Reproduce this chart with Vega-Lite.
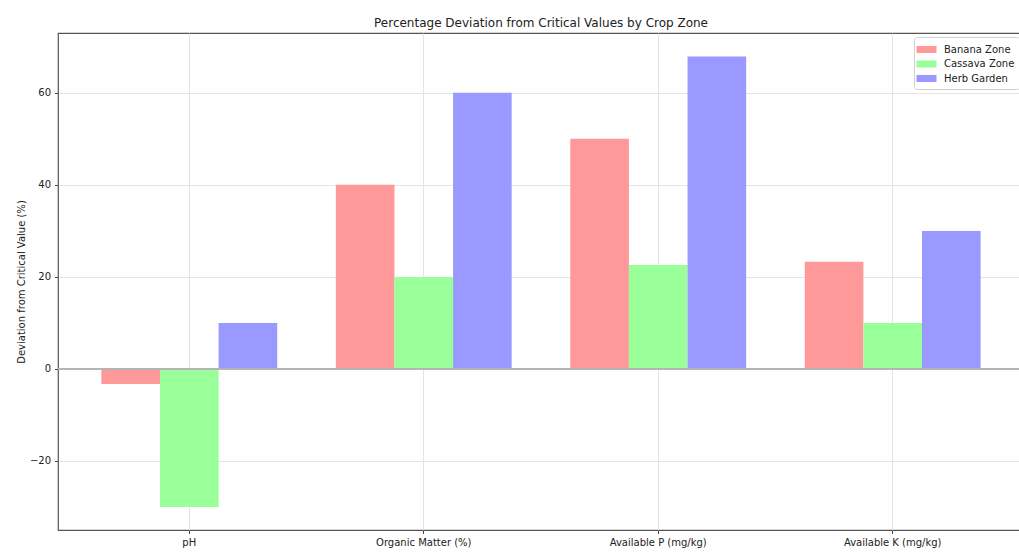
{
  "$schema": "https://vega.github.io/schema/vega-lite/v6.json",
  "autosize": {"type": "none"},
  "width": 966,
  "height": 497,
  "padding": {"left": 58, "top": 33, "right": 0, "bottom": 23},
  "background": "white",
  "title": {
    "text": "Percentage Deviation from Critical Values by Crop Zone",
    "font": "DejaVu Sans",
    "fontSize": 12,
    "fontWeight": "normal",
    "color": "#222",
    "offset": 3,
    "anchor": "middle"
  },
  "config": {
    "view": {"stroke": "#555", "strokeWidth": 1.2},
    "font": "DejaVu Sans"
  },
  "data": {
    "values": [
      {"nutrient": "pH", "zone": "Banana Zone", "value": -3.3},
      {"nutrient": "pH", "zone": "Cassava Zone", "value": -30},
      {"nutrient": "pH", "zone": "Herb Garden", "value": 10},
      {"nutrient": "Organic Matter (%)", "zone": "Banana Zone", "value": 40},
      {"nutrient": "Organic Matter (%)", "zone": "Cassava Zone", "value": 20},
      {"nutrient": "Organic Matter (%)", "zone": "Herb Garden", "value": 60},
      {"nutrient": "Available P (mg/kg)", "zone": "Banana Zone", "value": 50},
      {"nutrient": "Available P (mg/kg)", "zone": "Cassava Zone", "value": 22.6},
      {"nutrient": "Available P (mg/kg)", "zone": "Herb Garden", "value": 67.9},
      {"nutrient": "Available K (mg/kg)", "zone": "Banana Zone", "value": 23.3},
      {"nutrient": "Available K (mg/kg)", "zone": "Cassava Zone", "value": 10},
      {"nutrient": "Available K (mg/kg)", "zone": "Herb Garden", "value": 30}
    ]
  },
  "layer": [
    {
      "mark": {"type": "bar"},
      "encoding": {
        "x": {
          "field": "nutrient",
          "type": "nominal",
          "sort": ["pH", "Organic Matter (%)", "Available P (mg/kg)", "Available K (mg/kg)"],
          "scale": {"paddingInner": 0, "paddingOuter": 0.06},
          "axis": {
            "title": null,
            "labelAngle": 0,
            "bandPosition": 0.5,
            "grid": true,
            "gridColor": "#e4e4e4",
            "domain": false,
            "tickSize": 3.5,
            "tickColor": "#444",
            "labelFontSize": 10,
            "labelColor": "#222",
            "labelPadding": 4
          }
        },
        "xOffset": {
          "field": "zone",
          "type": "nominal",
          "sort": ["Banana Zone", "Cassava Zone", "Herb Garden"],
          "scale": {"paddingInner": 0, "paddingOuter": 0.5}
        },
        "y": {
          "field": "value",
          "type": "quantitative",
          "scale": {"domain": [-35, 73], "nice": false, "zero": false},
          "axis": {
            "title": "Deviation from Critical Value (%)",
            "titleFontSize": 10,
            "titleFontWeight": "normal",
            "titleColor": "#222",
            "titlePadding": 3,
            "values": [-20, 0, 20, 40, 60],
            "labelExpr": "datum.value < 0 ? '\u2212' + abs(datum.value) : datum.label",
            "grid": true,
            "gridColor": "#e4e4e4",
            "domain": false,
            "tickSize": 3.5,
            "tickColor": "#444",
            "labelFontSize": 10,
            "labelColor": "#222",
            "labelPadding": 4
          }
        },
        "color": {
          "field": "zone",
          "type": "nominal",
          "sort": ["Banana Zone", "Cassava Zone", "Herb Garden"],
          "scale": {
            "domain": ["Banana Zone", "Cassava Zone", "Herb Garden"],
            "range": ["#ff9999", "#99ff99", "#9999ff"]
          },
          "legend": {
            "title": null,
            "orient": "top-right",
            "offset": 4,
            "fillColor": "white",
            "strokeColor": "#d0d0d0",
            "cornerRadius": 3,
            "padding": 5,
            "labelFontSize": 10,
            "labelColor": "#222",
            "symbolType": "M-1.333,-0.467L1.333,-0.467L1.333,0.467L-1.333,0.467Z",
            "symbolSize": 225,
            "symbolStrokeWidth": 0,
            "symbolOpacity": 1,
            "rowPadding": 1.5,
            "labelOffset": 10
          }
        }
      }
    },
    {
      "mark": {"type": "rule", "color": "#b5b5b5", "strokeWidth": 1.2},
      "encoding": {"y": {"datum": 0}}
    }
  ]
}
